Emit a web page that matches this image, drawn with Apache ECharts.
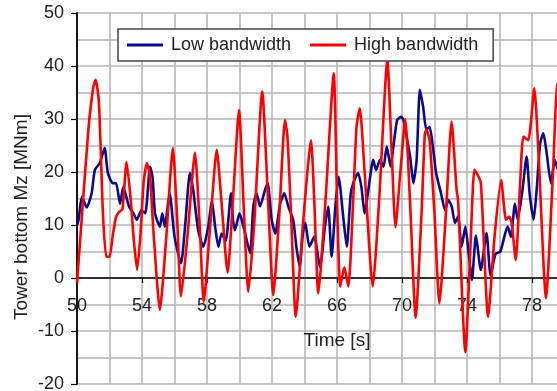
<!DOCTYPE html>
<html>
<head>
<meta charset="utf-8">
<script src="https://cdn.jsdelivr.net/npm/echarts@6/dist/echarts.min.js"></script>
<style>html,body{margin:0;padding:0;background:#fff}#c{width:557px;height:391px}</style>
</head>
<body>
<div id="c"></div>
<script>
const lowTime = [50.0,50.1,50.3,50.6,50.9,51.1,51.4,51.7,51.9,52.2,52.4,52.65,52.85,53.2,53.47,53.67,53.98,54.2,54.5,54.65,54.8,55.1,55.25,55.4,55.7,56.0,56.4,56.65,56.95,57.15,57.46,57.77,58.08,58.3,58.5,58.7,58.9,59.15,59.48,59.6,59.72,60.0,60.3,60.65,60.85,61.05,61.26,61.57,61.73,61.98,62.2,62.5,62.76,63.0,63.3,63.5,63.7,63.9,64.05,64.3,64.6,64.95,65.26,65.46,65.67,65.9,66.1,66.4,66.6,66.85,67.07,67.3,67.5,67.7,67.9,68.23,68.4,68.65,68.86,69.06,69.3,69.47,69.7,69.95,70.1,70.2,70.5,70.7,70.9,71.1,71.3,71.5,71.7,71.9,72.1,72.4,72.65,72.85,73.06,73.26,73.45,73.67,73.9,74.1,74.3,74.55,74.85,75.2,75.45,75.75,76.05,76.35,76.5,76.7,76.95,77.12,77.4,77.67,77.85,78.1,78.3,78.5,78.7,78.9,79.17,79.4,79.6,80.0];
const lowValues = [10,11,15.3,13.3,16,20.4,21.7,24.5,19.8,17.9,17.9,14,17.2,13.5,12.2,11,12.8,12.2,21,19,12.2,9.7,12.2,9.7,16,7.8,2.8,9.7,19.8,16.6,9,5.9,9.7,14.7,9.7,5.9,8.4,7,16,11,9,12.2,9,4.7,13.5,16,13.5,16.6,17.9,11,8.4,14,16,13.5,11,5.9,2.1,8.4,10.4,5.9,7.8,2.1,9.7,13.5,4,13.5,19.1,11,5.9,16,18.5,19.8,17.2,12.2,16,22.3,20.4,22.3,21,24.8,21,24.8,29.8,30.4,29.8,28,22.9,17.9,22.3,35.5,32.3,28,28.5,24.8,19.8,16,12.8,14.7,13.5,10.4,11.6,5.9,9.7,4.7,-0.4,8,1.5,8.5,0.5,4.5,5,8.4,9.7,7.8,14,11,16.3,22.9,16,11,17.2,25.4,27.3,23.6,17.9,22.3,20.4,24];

const highTime = [50.0,50.3,50.7,51.0,51.15,51.35,51.6,51.8,52.0,52.2,52.4,52.6,52.8,53.05,53.3,53.5,53.7,53.9,54.1,54.3,54.5,54.7,55.1,55.5,55.9,56.15,56.4,56.8,57.26,57.55,57.8,58.2,58.6,58.9,59.27,59.6,59.97,60.25,60.54,60.9,61.4,61.75,62.08,62.45,62.8,62.95,63.2,63.46,63.9,64.4,64.6,64.85,65.3,65.8,66.0,66.2,66.45,66.7,67.0,67.2,67.4,67.7,68.2,68.6,69.1,69.35,69.6,69.9,70.2,70.5,70.84,71.2,71.4,71.5,71.7,72.0,72.3,72.7,73.05,73.36,73.45,73.9,74.2,74.45,74.6,74.85,75.3,75.7,76.1,76.4,76.6,76.75,77.0,77.26,77.47,77.77,78.14,78.4,78.86,79.3,79.54,80.0];
const highValues = [-1,11.6,28,36,37.4,33,12,4,4,8,11.5,12.5,13,21.9,15,7,1.5,8,18,21.7,19,9,-6,8,24.5,12,-3.5,8,23.6,10,-4.5,10,24.2,14,1,15,31.7,14,-2.6,10,35.2,15,-3.2,12,29.8,26.7,10,-7.3,10,26,14.7,-2.9,15,38.6,15,-1.6,2,-1.6,15,28.5,32,20,-1.6,15,41.1,25,9.6,20,30,14,-7.5,12,27,28,26,12,-4.8,12,29.5,16.6,14.7,-14,5,20.4,19.8,18,-7.3,8,18.5,11,11.6,10.4,3.4,17.2,26.7,26,35.8,23.6,-3.8,20.4,36,40];

const xTicks = [50, 54, 58, 62, 66, 70, 74, 78];
const yTicks = [-20, -10, 0, 10, 20, 30, 40, 50];

const seriesNames = ['Low bandwidth', 'High bandwidth'];

const zip = (a, b) => a.map((t, i) => [t, b[i]]);
const font = "'Liberation Sans', Arial, sans-serif";
const chart = echarts.init(document.getElementById('c'), null, {renderer: 'canvas'});
chart.setOption({
  animation: false,
  backgroundColor: '#fff',
  textStyle: {fontFamily: font},
  grid: {left: 77, top: 13, width: 520, height: 371, containLabel: false, outerBoundsMode: 'none'},
  legend: {
    left: 118, top: 29,
    padding: [7, 15, 7, 9],
    itemGap: 19,
    itemWidth: 36, itemHeight: 3,
    icon: 'rect',
    backgroundColor: '#fff',
    borderColor: '#444', borderWidth: 1.5,
    textStyle: {fontFamily: font, fontSize: 18, color: '#222', padding: [0, 0, 0, 3]},
    data: seriesNames
  },
  xAxis: {
    type: 'value', min: 50, max: 82, interval: 4,
    offset: -106,
    axisLine: {onZero: false, lineStyle: {color: '#000', width: 1.5}},
    axisTick: {show: true, length: 5, lineStyle: {color: '#000', width: 1.2}},
    axisLabel: {margin: 19, fontSize: 18, color: '#222', fontFamily: font,
      formatter: v => xTicks.includes(v) ? String(v) : ''},
    splitLine: {show: true, lineStyle: {color: '#b4b4b4', width: 1.5}},
    minorTick: {show: false, splitNumber: 2},
    minorSplitLine: {show: true, lineStyle: {color: '#b4b4b4', width: 1.5}},
    name: 'Time [s]', nameLocation: 'middle', nameGap: 53,
    nameTextStyle: {fontSize: 19, color: '#222', fontFamily: font}
  },
  yAxis: {
    type: 'value', min: -20, max: 50, interval: 10,
    axisLine: {show: true, onZero: false, lineStyle: {color: '#000', width: 1.8}},
    axisTick: {show: true, length: 6, lineStyle: {color: '#000', width: 1.2}},
    axisLabel: {margin: 13, fontSize: 18, color: '#222', fontFamily: font,
      formatter: v => yTicks.includes(v) ? String(v) : ''},
    splitLine: {show: true, lineStyle: {color: '#b4b4b4', width: 1.5}},
    minorTick: {show: false, splitNumber: 2},
    minorSplitLine: {show: true, lineStyle: {color: '#b4b4b4', width: 1.5}}
  },
  graphic: [{
    type: 'text', x: 22, y: 217, rotation: Math.PI / 2,
    style: {text: 'Tower bottom Mz [MNm]', fontSize: 19, fontFamily: font, fill: '#222',
      align: 'center', verticalAlign: 'middle'}
  }],
  series: [
    {name: seriesNames[0], type: 'line', data: zip(lowTime, lowValues), symbol: 'none', smooth: 0.2,
     color: '#0a0a8c', lineStyle: {width: 2.6, color: '#0a0a8c'}, clip: true},
    {name: seriesNames[1], type: 'line', data: zip(highTime, highValues), symbol: 'none', smooth: 0.2,
     color: '#ff0000', lineStyle: {width: 2.6, color: '#ff0000'}, clip: true}
  ]
});
</script>
</body>
</html>
